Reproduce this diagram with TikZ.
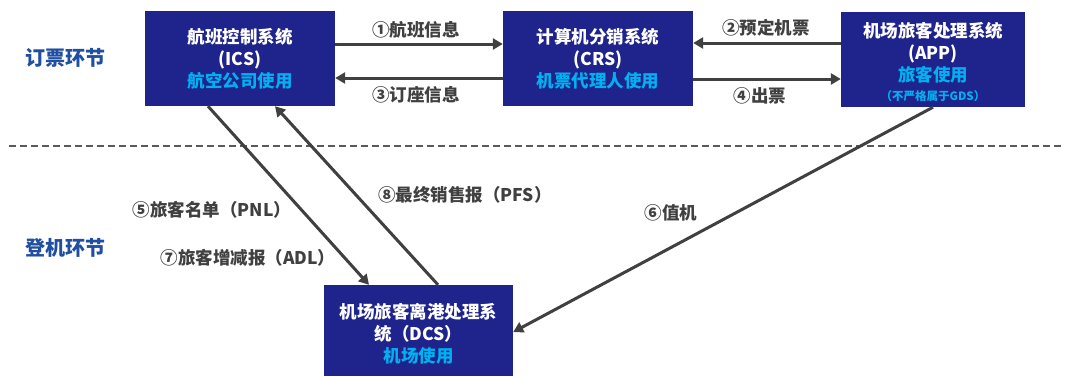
\documentclass[tikz,border=0pt]{standalone}
\usepackage{fontspec}
\setmainfont{Noto Sans CJK SC}
\usetikzlibrary{arrows.meta}
\definecolor{boxblue}{RGB}{30,36,139}
\definecolor{lightblue}{RGB}{0,176,240}
\definecolor{arrgray}{RGB}{64,64,64}
\definecolor{dashgray}{RGB}{90,90,90}
\definecolor{secblue}{RGB}{32,78,160}
\begin{document}
\begin{tikzpicture}[x=1pt,y=-1pt,
 sysbox/.style={fill=boxblue, draw=none, text=white, font=\bfseries\fontsize{17.5}{22}\selectfont, align=center, inner sep=0pt},
 conn/.style={draw=arrgray, line width=3pt, -{Triangle[length=10pt,width=11pt]}},
 lbl/.style={text=arrgray, font=\bfseries\fontsize{17.5}{20}\selectfont, inner sep=0pt},
 sec/.style={text=secblue, font=\bfseries\fontsize{20}{24}\selectfont, inner sep=0pt}]
\useasboundingbox[fill=white] (0,0) rectangle (1070,376);
% section labels
\node[sec] (s1) at (65,58) {订票环节};
\node[sec] (s2) at (65,248) {登机环节};
% divider
\draw[dashgray, line width=2pt, dash pattern=on 7pt off 4pt] (9,146) -- (1062,146);
% boxes
\node[sysbox, minimum width=190pt, minimum height=95pt] (ics) at (240,58.5) {航班控制系统\\(ICS)\\\textcolor{lightblue}{航空公司使用}};
\node[sysbox, minimum width=190pt, minimum height=95pt] (crs) at (598,58.5) {计算机分销系统\\(CRS)\\\textcolor{lightblue}{机票代理人使用}};
\node[sysbox, minimum width=184pt, minimum height=95pt] (app) at (933,59.5) {};
\node[sysbox, align=center] (apptxt) at (933,62) {\fontsize{17.5}{21}\selectfont 机场旅客处理系统\\(APP)\\\textcolor{lightblue}{旅客使用}\\[-3pt]\textcolor{lightblue}{\fontsize{11.5}{13}\selectfont （不严格属于GDS）}};
\node[sysbox, minimum width=189pt, minimum height=91pt] (dcs) at (418.5,330.5) {};
\node[sysbox] (dcstxt) at (418.5,334) {机场旅客离港处理系\\统（DCS）\\\textcolor{lightblue}{机场使用}};
% horizontal connectors
\draw[conn] ([yshift=14.5pt]ics.east) -- ([yshift=14.5pt]crs.west);
\draw[conn] ([yshift=-19.5pt]crs.west) -- ([yshift=-19.5pt]ics.east);
\draw[conn] ([yshift=16.5pt]app.west) -- ([yshift=15.5pt]crs.east);
\draw[conn] ([yshift=-20.5pt]crs.east) -- ([yshift=-19.5pt]app.west);
% diagonal connectors
\draw[conn] ([xshift=-32pt]ics.south) -- ([xshift=-49.5pt]dcs.north);
\draw[conn] ([xshift=19.5pt]dcs.north) -- ([xshift=35pt]ics.south);
\draw[conn] (app.south) -- ([yshift=-1.5pt]dcs.east);
% labels
\node[lbl] (l1) at (416,30) {①航班信息};
\node[lbl] (l3) at (416,95) {③订座信息};
\node[lbl] (l2) at (766,28) {②预定机票};
\node[lbl] (l4) at (760,96) {④出票};
\node[lbl] (l5) at (212,210) {⑤旅客名单（PNL）};
\node[lbl] (l7) at (248,258) {⑦旅客增减报（ADL）};
\node[lbl] (l8) at (465,195) {⑧最终销售报（PFS）};
\node[lbl] (l6) at (671,213) {⑥值机};
\end{tikzpicture}
\end{document}
